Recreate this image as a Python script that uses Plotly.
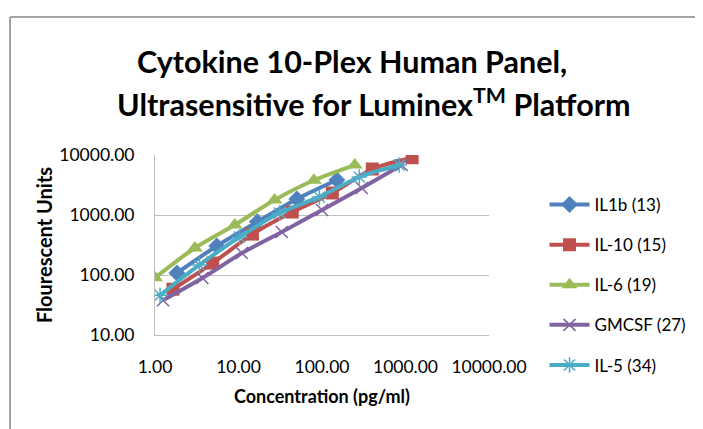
import plotly.graph_objects as go

# Data
il1b_x = [1.83, 5.5, 16.8, 50, 151]
il1b_y = [108, 305, 770, 1850, 3830]

il10_x = [1.64, 4.9, 14.7, 44, 133, 400, 1200]
il10_y = [58, 158, 480, 1120, 2330, 5840, 9000]

il6_x = [1.0, 3.0, 9.0, 27, 80, 247]
il6_y = [90, 282, 680, 1780, 3800, 6800]

gmcsf_x = [1.25, 3.7, 11, 33, 100, 300, 900]
gmcsf_y = [38, 89, 232, 520, 1210, 2820, 6800]

il5_x = [1.15, 3.4, 10.3, 31, 93, 280, 840]
il5_y = [46, 147, 430, 1080, 2000, 4300, 6800]

series_names = ["IL1b (13)", "IL-10 (15)", "IL-6 (19)", "GMCSF (27)", "IL-5 (34)"]
colors = ["#4F81BD", "#C0504D", "#9BBB59", "#8064A2", "#4BACC6"]

x_tickvals = [1, 10, 100, 1000, 10000]
x_ticktext = ["1.00", "10.00", "100.00", "1000.00", "10000.00"]
y_tickvals = [10, 100, 1000, 10000]
y_ticktext = ["10.00", "100.00", "1000.00", "10000.00"]

FONT = "Lato"

markers = [
    dict(symbol="diamond", size=13),
    dict(symbol="square", size=13),
    dict(symbol="triangle-up", size=14),
    dict(symbol="x-thin-open", size=12, line=dict(width=1.5)),
    dict(symbol="asterisk-open", size=13, line=dict(width=1.5)),
]

xs = [il1b_x, il10_x, il6_x, gmcsf_x, il5_x]
ys = [il1b_y, il10_y, il6_y, gmcsf_y, il5_y]

fig = go.Figure()
for i in range(5):
    m = dict(color=colors[i], **markers[i])
    if "line" in m:
        m["line"] = dict(color=colors[i], width=m["line"]["width"])
    fig.add_trace(go.Scatter(
        x=xs[i], y=ys[i], name=series_names[i], mode="lines+markers",
        line=dict(color=colors[i], width=4, shape="spline", smoothing=0.8),
        marker=m, legendgroup=str(i),
    ))

OFF = 8  # page body offset
W, H = 703 - OFF, 429 - OFF
L, T = 147, 147
pw, ph = 337, 180
R = W - L - pw
B = H - T - ph

def px_x(p):  # screen pixel -> paper x
    return (p - OFF - L) / pw

def px_y(p):  # screen pixel -> paper y
    return (T + ph - (p - OFF)) / ph

border = dict(color="#868686", width=1.5)

fig.update_layout(
    width=W, height=H,
    margin=dict(l=L, r=R, t=T, b=B),
    paper_bgcolor="white", plot_bgcolor="white",
    font=dict(family=FONT, color="black"),
    showlegend=True,
    legend=dict(
        x=px_x(548), y=px_y(187), xanchor="left", yanchor="top",
        font=dict(size=17, family=FONT), tracegroupgap=15,
        itemwidth=40, maxheight=400,
        bgcolor="rgba(0,0,0,0)",
    ),
    xaxis=dict(
        type="log", range=[0, 4], tickvals=x_tickvals, ticktext=x_ticktext,
        showgrid=False, showline=True, linecolor="#BFBFBF", linewidth=1,
        ticks="", tickfont=dict(size=17.5, family=FONT), ticklabelstandoff=16,
        title=dict(text="<b>Concentration (pg/ml)</b>", font=dict(size=18, family=FONT), standoff=14),
        zeroline=False,
    ),
    yaxis=dict(
        type="log", range=[1, 4], tickvals=y_tickvals, ticktext=y_ticktext,
        showgrid=True, gridcolor="#BFBFBF", gridwidth=1,
        showline=True, linecolor="#BFBFBF", linewidth=1,
        ticks="", tickfont=dict(size=17.5, family=FONT), ticklabelstandoff=16,
        title=dict(text="<b>Flourescent Units</b>", font=dict(size=20, family=FONT), standoff=1),
        zeroline=False,
    ),
    shapes=[
        dict(type="line", xref="paper", yref="paper",
             x0=px_x(8.75), x1=px_x(703), y0=px_y(17), y1=px_y(17), line=border, layer="below"),
        dict(type="line", xref="paper", yref="paper",
             x0=px_x(8.75), x1=px_x(8.75), y0=px_y(17), y1=px_y(429), line=border, layer="below"),
    ],
    annotations=[
        dict(text="<b>Cytokine 10-Plex Human Panel,</b>", xref="paper", yref="paper",
             x=px_x(354), y=px_y(61), xanchor="center", yanchor="middle",
             showarrow=False, font=dict(size=30.5, family=FONT)),
        dict(text="<b>Ultrasensitive for Luminex<sup>TM</sup> Platform</b>", xref="paper", yref="paper",
             x=px_x(376), y=px_y(102), xanchor="center", yanchor="middle",
             showarrow=False, font=dict(size=30.5, family=FONT)),
    ],
)

fig.write_html(
    "out.html",
    post_script="document.documentElement.style.overflow='hidden';document.body.style.overflow='hidden';",
)
